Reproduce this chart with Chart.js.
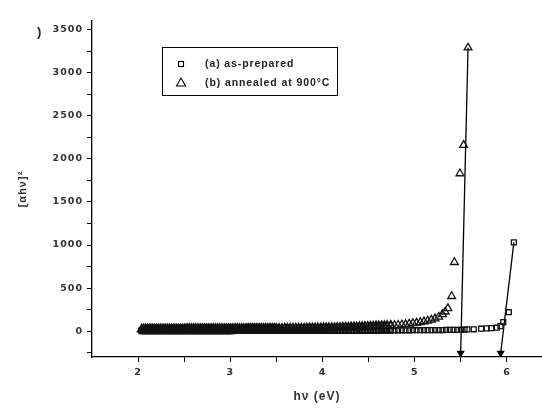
<!DOCTYPE html>
<html>
<head>
<meta charset="utf-8">
<script src="https://cdn.jsdelivr.net/npm/chart.js@4"></script>
<style>
  body { margin: 0; background: #fff; }
  #wrap { width: 542px; height: 408px; }
</style>
</head>
<body>
<div id="wrap"><canvas id="c" width="542" height="408"></canvas></div>
<script>
// photon energy grid shared by both series in the flat part (eV)
const xGrid = [
  2.04,2.06,2.08,2.10,2.12,2.14,2.16,2.18,2.20,2.22,2.24,2.26,2.28,2.30,2.32,2.34,2.36,2.38,2.40,2.42,
  2.44,2.46,2.48,2.50,2.52,2.54,2.56,2.58,2.60,2.62,2.64,2.66,2.68,2.70,2.72,2.74,2.76,2.78,2.80,2.82,
  2.84,2.86,2.88,2.90,2.92,2.94,2.96,2.98,3.00,3.02,3.04,3.06,3.08,3.10,3.12,3.14,3.16,3.18,3.20,3.22,
  3.24,3.26,3.28,3.30,3.32,3.34,3.36,3.38,3.40,3.42,3.44,3.46,3.48,3.50,
  3.53,3.56,3.59,3.62,3.65,3.68,3.71,3.74,3.77,3.80,3.83,3.86,3.89,3.92,3.95,3.98,4.01,4.04,4.07,4.10,
  4.13,4.16,4.19,4.22,4.25,4.28,4.31,4.34,4.37,4.40,4.43,4.46,4.49,4.52,4.55,4.58,4.61,4.64,4.67,4.70,
  4.74,4.78,4.82,4.86,4.90,4.94,4.98,5.02,5.06,5.10,5.14,5.18,5.22,5.26,5.30
];

// (a) as-prepared, [αhν]² on the grid above
const aGrid = [
  4,4,4,4,4,4,4,4,4,4,5,5,5,5,5,5,5,5,5,5,
  5,5,5,5,5,5,5,5,5,5,5,5,5,5,5,5,5,5,5,5,
  5,5,5,5,5,5,5,5,5,5,6,6,6,6,6,6,6,6,6,6,
  6,6,6,6,6,6,6,6,6,6,6,6,6,6,
  6,6,6,6,6,6,7,7,7,7,7,7,7,7,7,7,7,7,7,7,
  8,8,8,8,8,8,8,8,8,8,8,8,8,8,9,9,9,9,9,9,
  9,9,10,10,10,10,11,11,11,12,12,12,13,13,13
];
const aTailX = [5.34, 5.38, 5.42, 5.46, 5.50, 5.54, 5.57, 5.64, 5.72, 5.78, 5.83, 5.89, 5.93, 5.96, 6.02, 6.075];
const aTailY = [14, 14, 15, 15, 16, 17, 20, 22, 28, 32, 35, 40, 58, 104, 220, 1030];

// (b) annealed at 900°C
const bGrid = [
  22,22,22,22,22,22,22,22,22,22,23,23,23,23,23,23,23,23,23,23,
  23,23,23,23,24,24,24,24,24,24,24,24,24,24,24,24,25,25,25,25,
  25,25,25,25,25,25,25,25,26,26,26,26,26,26,26,26,26,27,27,27,
  27,27,27,27,27,28,28,28,28,28,28,28,29,29,
  29,29,30,30,30,31,31,31,32,32,33,33,34,34,35,35,36,36,37,38,
  38,39,40,41,42,43,44,45,46,47,48,50,51,53,54,56,57,59,61,63,
  65,68,71,75,79,84,90,96,103,111,120,131,145,165,195
];
const bTailX = [5.33, 5.36, 5.40, 5.43, 5.49, 5.53, 5.578];
const bTailY = [225, 265, 405, 800, 1830, 2160, 3290];

// extrapolated straight-line fits down to the energy axis
const aFitX = [6.075, 5.932];
const aFitY = [1030, -255];
const bFitX = [5.578, 5.498];
const bFitY = [3290, -255];

// tick positions (labelled: integers on x, multiples of 500 on y)
const xTicks = [2, 2.5, 3, 3.5, 4, 4.5, 5, 5.5, 6];
const yTicks = [-250, 0, 250, 500, 750, 1000, 1250, 1500, 1750, 2000, 2250, 2500, 2750, 3000, 3250, 3500];

const legendLabels = ['(a) as-prepared', '(b) annealed at 900°C'];

function toPoints(xs, ys) {
  return xs.map((x, i) => ({ x: x, y: ys[i] }));
}

// dense low-energy markers merge into a dark band in the scan
function markerWidth(ctx) {
  return ctx.raw && ctx.raw.x < 4.75 ? 2 : 1.3;
}

// wider letter spacing for all chart text, like the scanned figure
const spacing = {
  id: 'spacing',
  beforeDraw(chart) { chart.ctx.letterSpacing = '1px'; }
};

// legend box drawn inside the plot, like the original figure
const legendBox = {
  id: 'legendBox',
  afterDraw(chart) {
    const ctx = chart.ctx;
    ctx.save();
    ctx.strokeStyle = '#000';
    ctx.lineWidth = 1;
    ctx.strokeRect(162.5, 47.5, 175, 48);

    ctx.lineWidth = 1.1;
    ctx.strokeRect(178.5, 61.5, 5, 5);
    ctx.beginPath();
    ctx.moveTo(181, 78);
    ctx.lineTo(185.5, 86);
    ctx.lineTo(176.5, 86);
    ctx.closePath();
    ctx.stroke();

    ctx.fillStyle = '#222';
    ctx.font = 'bold 10.5px "Liberation Sans", Arial, sans-serif';
    ctx.letterSpacing = '0.9px';
    ctx.textBaseline = 'middle';
    ctx.fillText(legendLabels[0], 205, 64);
    ctx.fillText(legendLabels[1], 205, 83);

    // cut-off panel label at the top-left corner
    ctx.font = 'bold 13px "Liberation Sans", Arial, sans-serif';
    ctx.fillText(')', 37, 32);
    ctx.restore();
  }
};

const tickFont = { family: '"DejaVu Sans", sans-serif', size: 9.5, weight: 'bold' };

new Chart(document.getElementById('c'), {
  type: 'scatter',
  data: {
    datasets: [
      {
        label: legendLabels[0],
        data: toPoints(xGrid, aGrid).concat(toPoints(aTailX, aTailY)),
        pointStyle: 'rect',
        pointRadius: 3.5,
        pointBorderWidth: markerWidth,
        borderColor: '#111',
        backgroundColor: 'rgba(0,0,0,0)'
      },
      {
        label: legendLabels[1],
        data: toPoints(xGrid, bGrid).concat(toPoints(bTailX, bTailY)),
        pointStyle: 'triangle',
        pointRadius: 4.5,
        pointBorderWidth: markerWidth,
        borderColor: '#111',
        backgroundColor: 'rgba(0,0,0,0)'
      },
      {
        label: 'fit a',
        data: toPoints(aFitX, aFitY),
        showLine: true,
        borderColor: '#000',
        borderWidth: 1.3,
        pointStyle: 'triangle',
        pointRotation: 180,
        pointRadius: [0, 3.5],
        pointBackgroundColor: '#000',
        pointBorderColor: '#000'
      },
      {
        label: 'fit b',
        data: toPoints(bFitX, bFitY),
        showLine: true,
        borderColor: '#000',
        borderWidth: 1.3,
        pointStyle: 'triangle',
        pointRotation: 180,
        pointRadius: [0, 3.5],
        pointBackgroundColor: '#000',
        pointBorderColor: '#000'
      }
    ]
  },
  options: {
    responsive: false,
    devicePixelRatio: 1,
    animation: false,
    layout: { autoPadding: false, padding: { top: 21, right: 0, left: 0, bottom: 0 } },
    plugins: {
      legend: { display: false },
      tooltip: { enabled: false }
    },
    scales: {
      x: {
        type: 'linear',
        min: 1.5,
        max: 6.38,
        afterFit(scale) {
          scale.height = 51;
          scale.paddingLeft = 0;
          scale.paddingRight = 0;
        },
        afterBuildTicks(scale) {
          scale.ticks = xTicks.map(v => ({ value: v }));
        },
        ticks: {
          color: '#333',
          font: tickFont,
          padding: 5,
          maxRotation: 0,
          autoSkip: false,
          callback: v => (Number.isInteger(v) ? v : '')
        },
        grid: { drawOnChartArea: false, tickLength: 5, color: '#000', lineWidth: 1 },
        border: { color: '#000', width: 1.3 },
        title: {
          display: true,
          text: 'hν (eV)',
          color: '#333',
          font: { family: '"Liberation Sans", Arial, sans-serif', size: 12, weight: 'bold' },
          padding: { top: 0, bottom: 4 }
        }
      },
      y: {
        type: 'linear',
        min: -300,
        max: 3600,
        afterFit(scale) {
          scale.width = 92;
          scale.paddingTop = 0;
          scale.paddingBottom = 0;
        },
        afterBuildTicks(scale) {
          scale.ticks = yTicks.map(v => ({ value: v }));
        },
        ticks: {
          color: '#333',
          font: tickFont,
          padding: 4,
          autoSkip: false,
          callback: v => (v % 500 === 0 ? v : '')
        },
        grid: { drawOnChartArea: false, tickLength: 5, color: '#000', lineWidth: 1 },
        border: { color: '#000', width: 1.3 },
        title: {
          display: true,
          text: '[αhν]²',
          color: '#333',
          font: { family: '"Liberation Sans", Arial, sans-serif', size: 11, weight: 'bold' },
          padding: { top: 16, bottom: 0 }
        }
      }
    }
  },
  plugins: [spacing, legendBox]
});
</script>
</body>
</html>
